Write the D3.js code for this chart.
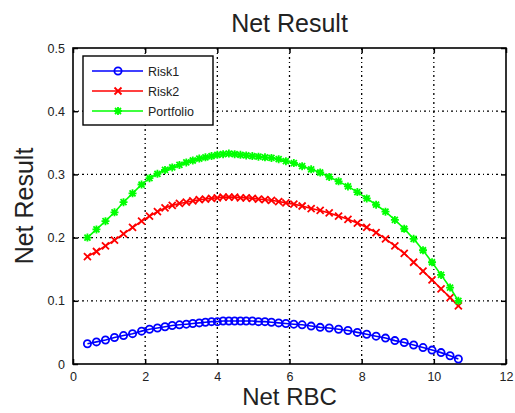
<!DOCTYPE html>
<html>
<head>
<meta charset="utf-8">
<script src="https://cdn.jsdelivr.net/npm/d3@7"></script>
<style>
  body { margin: 0; background: #fff; }
  svg { display: block; font-family: "Liberation Sans", Arial, sans-serif; }
</style>
</head>
<body>
<script>
var width = 515;
var height = 413;
var margin = {top: 48, right: 9, bottom: 49, left: 73};

// values (shared x = Net RBC)
var netRBC = [0.40, 0.65, 0.90, 1.15, 1.40, 1.65, 1.90, 2.12, 2.34, 2.55, 2.75, 2.95, 3.14, 3.32, 3.50, 3.67,
  3.84, 4.00, 4.16, 4.32, 4.48, 4.64, 4.80, 4.97, 5.14, 5.32, 5.50, 5.70, 5.90, 6.12, 6.35, 6.60,
  6.85, 7.10, 7.36, 7.62, 7.88, 8.14, 8.40, 8.66, 8.92, 9.18, 9.44, 9.70, 9.95, 10.20, 10.45, 10.68];
var risk1 = [0.032, 0.035, 0.038, 0.042, 0.045, 0.048, 0.052, 0.055, 0.057, 0.059, 0.061, 0.062, 0.063, 0.064, 0.065, 0.066,
  0.067, 0.067, 0.068, 0.068, 0.068, 0.068, 0.068, 0.068, 0.067, 0.067, 0.066, 0.065, 0.064, 0.063, 0.062, 0.060,
  0.058, 0.057, 0.055, 0.053, 0.050, 0.047, 0.044, 0.041, 0.037, 0.034, 0.030, 0.026, 0.022, 0.018, 0.013, 0.008];
var risk2 = [0.170, 0.178, 0.187, 0.196, 0.206, 0.216, 0.226, 0.234, 0.241, 0.247, 0.251, 0.254, 0.256, 0.258, 0.260, 0.261,
  0.262, 0.263, 0.264, 0.264, 0.264, 0.263, 0.263, 0.262, 0.261, 0.260, 0.259, 0.257, 0.255, 0.253, 0.250, 0.246,
  0.243, 0.239, 0.234, 0.229, 0.223, 0.216, 0.208, 0.198, 0.187, 0.175, 0.161, 0.147, 0.133, 0.119, 0.105, 0.092];
var portfolio = [0.200, 0.213, 0.226, 0.240, 0.256, 0.270, 0.284, 0.294, 0.301, 0.307, 0.311, 0.315, 0.319, 0.322, 0.325, 0.327,
  0.329, 0.331, 0.332, 0.333, 0.332, 0.331, 0.330, 0.329, 0.328, 0.327, 0.326, 0.324, 0.321, 0.318, 0.313, 0.308,
  0.303, 0.296, 0.289, 0.281, 0.272, 0.262, 0.252, 0.241, 0.228, 0.214, 0.198, 0.180, 0.161, 0.141, 0.121, 0.100];
var seriesNames = ['Risk1', 'Risk2', 'Portfolio'];
var xTicks = [0, 2, 4, 6, 8, 10, 12];
var yTicks = [0, 0.1, 0.2, 0.3, 0.4, 0.5];

var colors = ['#0000ff', '#ff0000', '#00ff00'];
var markers = ['circle', 'cross', 'star'];
var values = [risk1, risk2, portfolio];

var w = width - margin.left - margin.right;
var h = height - margin.top - margin.bottom;

var x = d3.scaleLinear().domain([0, 12]).range([0, w]);
var y = d3.scaleLinear().domain([0, 0.5]).range([h, 0]);

var svg = d3.select('body').append('svg').attr('width', width).attr('height', height);
var g = svg.append('g').attr('transform', 'translate(' + margin.left + ',' + margin.top + ')');

// grid
var dash = '2,3,1,3';
g.selectAll('.gx').data(xTicks.slice(1, -1)).enter().append('line')
  .attr('x1', x).attr('x2', x).attr('y1', 0).attr('y2', h)
  .attr('stroke', '#000').attr('stroke-width', 1.3).attr('stroke-dasharray', dash);
g.selectAll('.gy').data(yTicks.slice(1, -1)).enter().append('line')
  .attr('y1', y).attr('y2', y).attr('x1', 0).attr('x2', w)
  .attr('stroke', '#000').attr('stroke-width', 1.3).attr('stroke-dasharray', dash);

// axes
var ax = d3.axisBottom(x).tickValues(xTicks).tickSizeInner(-5).tickSizeOuter(0).tickPadding(8);
var ay = d3.axisLeft(y).tickValues(yTicks).tickSizeInner(-5).tickSizeOuter(0).tickPadding(8).tickFormat(function(d) { return d === 0 ? '0' : d3.format('.1f')(d); });
g.append('g').attr('transform', 'translate(0,' + h + ')').call(ax);
g.append('g').call(ay);
g.append('g').call(d3.axisTop(x).tickValues(xTicks).tickSizeInner(-5).tickSizeOuter(0).tickFormat(''));
g.append('g').attr('transform', 'translate(' + w + ',0)').call(d3.axisRight(y).tickValues(yTicks).tickSizeInner(-5).tickSizeOuter(0).tickFormat(''));
svg.selectAll('.domain').remove();
svg.selectAll('.tick line').attr('stroke', '#000').attr('stroke-width', 1.5);
svg.selectAll('.tick text').attr('font-size', 12.5).attr('fill', '#222').attr('font-family', '"Liberation Sans", Arial, sans-serif');

g.append('rect').attr('width', w).attr('height', h).attr('fill', 'none').attr('stroke', '#000').attr('stroke-width', 1.6);

function drawMarker(sel, type, color) {
  if (type === 'circle') {
    sel.append('circle').attr('r', 3.6).attr('fill', 'none').attr('stroke', color).attr('stroke-width', 1.8);
  } else if (type === 'cross') {
    sel.append('path').attr('d', 'M-3.5,-3.5L3.5,3.5M-3.5,3.5L3.5,-3.5').attr('stroke', color).attr('stroke-width', 1.8);
  } else {
    sel.append('path').attr('d', 'M-4,0L4,0M0,-4L0,4M-3,-3L3,3M-3,3L3,-3').attr('stroke', color).attr('stroke-width', 1.8);
  }
}

var line = d3.line().x(function(d) { return x(d[0]); }).y(function(d) { return y(d[1]); });

values.forEach(function(vals, i) {
  var pts = netRBC.map(function(v, j) { return [v, vals[j]]; });
  g.append('path').attr('d', line(pts)).attr('fill', 'none').attr('stroke', colors[i]).attr('stroke-width', 1.6);
  g.selectAll('.m' + i).data(pts).enter().append('g')
    .attr('transform', function(d) { return 'translate(' + x(d[0]) + ',' + y(d[1]) + ')'; })
    .each(function() { drawMarker(d3.select(this), markers[i], colors[i]); });
});

// legend
var lg = svg.append('g').attr('transform', 'translate(83,56)');
lg.append('rect').attr('width', 130).attr('height', 69).attr('fill', '#fff').attr('stroke', '#000').attr('stroke-width', 1.4);
seriesNames.forEach(function(name, i) {
  var row = lg.append('g').attr('transform', 'translate(0,' + (15 + i * 20) + ')');
  row.append('line').attr('x1', 9).attr('x2', 60).attr('stroke', colors[i]).attr('stroke-width', 1.5);
  drawMarker(row.append('g').attr('transform', 'translate(35,0)'), markers[i], colors[i]);
  row.append('text').attr('x', 65).attr('y', 4.5).attr('font-size', 12.5).attr('fill', '#222').text(name);
});

// titles
svg.append('text').attr('x', margin.left + w / 2).attr('y', 32).attr('text-anchor', 'middle').attr('font-size', 25).attr('fill', '#222').text('Net Result');
svg.append('text').attr('x', margin.left + w / 2).attr('y', 405).attr('text-anchor', 'middle').attr('font-size', 24).attr('fill', '#222').text('Net RBC');
svg.append('text').attr('transform', 'translate(33,' + (margin.top + h / 2) + ') rotate(-90)').attr('text-anchor', 'middle').attr('font-size', 25).attr('fill', '#222').text('Net Result');
</script>
</body>
</html>
